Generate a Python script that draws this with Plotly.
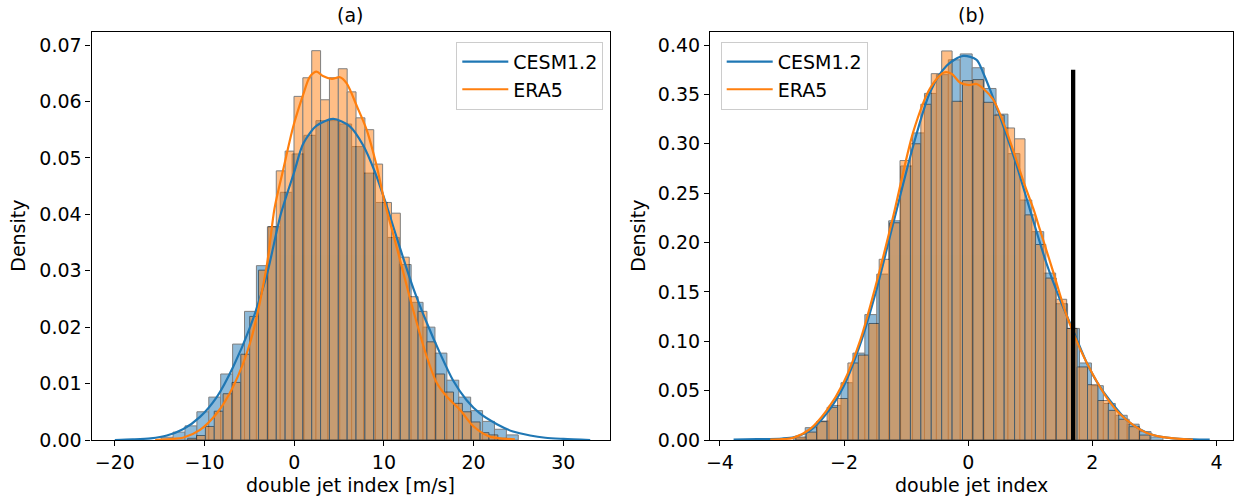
import numpy as np
import plotly.graph_objects as go

# ---------------- Panel (a): double jet index [m/s] ----------------
a_cesm_bin_start = -14.83
a_cesm_bin_width = 1.327
a_cesm_density = [0.0005, 0.0014, 0.0025, 0.0050, 0.0076, 0.0117, 0.0170, 0.0228, 0.0309, 0.0378,
                  0.0439, 0.0507, 0.0540, 0.0566, 0.0566, 0.0560, 0.0520, 0.0473, 0.0421, 0.0359,
                  0.0311, 0.0244, 0.0200, 0.0154, 0.0106, 0.0076, 0.0052, 0.0033, 0.0019, 0.0009]

a_era5_bin_start = -11.88
a_era5_bin_width = 0.988
a_era5_density = [0.0003, 0.0008, 0.0024, 0.0051, 0.0082, 0.0102, 0.0152, 0.0219, 0.0301, 0.0378,
                  0.0477, 0.0512, 0.0609, 0.0642, 0.0690, 0.0603, 0.0642, 0.0658, 0.0617, 0.0571,
                  0.0550, 0.0489, 0.0421, 0.0402, 0.0324, 0.0254, 0.0228, 0.0174, 0.0117, 0.0085,
                  0.0065, 0.0050, 0.0032, 0.0013, 0.0009, 0.0003]

a_cesm_kde_x = [-20, -18, -16, -14.2, -12.4, -10.5, -8.6, -6.8, -4.9, -3.1, -1.5, 0.0, 1.0, 2.5, 4.35,
                6.2, 7.7, 9.0, 10.1, 11.8, 13.3, 14.8, 16.25, 17.7, 19.2, 20.7, 22.6, 24.4, 26.3, 28, 30, 33]
a_cesm_kde_y = [0.0000, 0.0001, 0.0003, 0.0008, 0.0019, 0.0041, 0.0077, 0.0130, 0.0201, 0.0290, 0.0400,
                0.0475, 0.0525, 0.0557, 0.0569, 0.0556, 0.0522, 0.0475, 0.0425, 0.0340, 0.0268, 0.0207,
                0.0154, 0.0106, 0.0071, 0.0047, 0.0028, 0.0015, 0.0008, 0.0004, 0.0002, 0.0000]

a_era5_kde_x = [-15.5, -13.5, -12.4, -10.5, -8.65, -6.8, -4.94, -3.08, -2.2, -1.23, -0.1, 1.0, 1.75, 2.5,
                3.2, 4.2, 5.1, 5.85, 7.0, 8.07, 9.2, 10.1, 11.0, 11.8, 13.27, 14.77, 15.9, 17.0, 18.5,
                20.0, 21.8, 23.0, 24.6]
a_era5_kde_y = [0.0000, 0.0002, 0.0004, 0.0018, 0.0047, 0.0095, 0.0171, 0.0307, 0.0410, 0.0479, 0.0556,
                0.0612, 0.0644, 0.0653, 0.0645, 0.0640, 0.0643, 0.0632, 0.0591, 0.0550, 0.0485, 0.0420,
                0.0367, 0.0319, 0.0230, 0.0148, 0.0101, 0.0077, 0.0053, 0.0024, 0.0006, 0.0003, 0.0001]

# ---------------- Panel (b): double jet index ----------------
b_cesm_bin_start = -2.818
b_cesm_bin_width = 0.1921
b_cesm_density = [0.002, 0.0125, 0.0192, 0.035, 0.058, 0.088, 0.127, 0.168, 0.222, 0.2775,
                  0.311, 0.351, 0.370, 0.385, 0.391, 0.377, 0.356, 0.330, 0.290, 0.243,
                  0.211, 0.169, 0.138, 0.113, 0.078, 0.055, 0.037, 0.025, 0.016, 0.0085, 0.003]

b_era5_bin_start = -2.777
b_era5_bin_width = 0.1678
b_era5_density = [0.003, 0.008, 0.0186, 0.0331, 0.042, 0.078, 0.086, 0.118, 0.183, 0.220,
                  0.283, 0.300, 0.340, 0.371, 0.394, 0.343, 0.364, 0.365, 0.342, 0.329,
                  0.316, 0.305, 0.228, 0.198, 0.164, 0.1425, 0.113, 0.074, 0.056, 0.040,
                  0.030, 0.021, 0.0135, 0.005]

b_cesm_kde_x = [-3.78, -3.4, -3.0, -2.8, -2.55, -2.28, -2.01, -1.74, -1.475, -1.21, -0.886, -0.617,
                -0.348, -0.08, 0.135, 0.24, 0.35, 0.564, 0.78, 1.0, 1.26, 1.48, 1.69, 1.91, 2.12,
                2.34, 2.55, 2.77, 2.98, 3.30, 3.62, 3.89]
b_cesm_kde_y = [0.0003, 0.0008, 0.0015, 0.003, 0.0095, 0.027, 0.054, 0.097, 0.153, 0.219, 0.298, 0.352,
                0.379, 0.389, 0.385, 0.372, 0.355, 0.318, 0.278, 0.232, 0.179, 0.142, 0.111, 0.078,
                0.054, 0.0354, 0.0203, 0.0108, 0.0051, 0.0017, 0.0007, 0.0003]

b_era5_kde_x = [-3.19, -3.0, -2.82, -2.55, -2.28, -2.01, -1.74, -1.475, -1.21, -0.886, -0.617, -0.40,
                -0.27, -0.134, 0.0, 0.135, 0.24, 0.40, 0.564, 0.725, 0.90, 1.05, 1.155, 1.37, 1.585,
                1.80, 2.01, 2.23, 2.44, 2.66, 2.87, 3.09, 3.36, 3.62]
b_era5_kde_y = [0.0003, 0.0008, 0.0022, 0.0110, 0.0300, 0.058, 0.101, 0.160, 0.226, 0.312, 0.356, 0.372,
                0.371, 0.362, 0.3595, 0.3605, 0.356, 0.345, 0.322, 0.293, 0.260, 0.234, 0.213, 0.170,
                0.126, 0.0925, 0.0660, 0.0430, 0.0265, 0.0150, 0.0073, 0.0034, 0.0013, 0.0005]

b_marker_x = 1.69
b_marker_top = 0.375

series_names = ["CESM1.2", "ERA5"]
x_labels = ["double jet index [m/s]", "double jet index"]
panel_titles = ["(a)", "(b)"]

BLUE = "#1f77b4"
ORANGE = "#ff7f0e"
FONT = "DejaVu Sans"
FS = 19


def centers(start, width, vals):
    return start + width * (np.arange(len(vals)) + 0.5)


fig = go.Figure()


def add_hist(start, width, vals, color, xa, ya):
    fig.add_trace(go.Bar(
        x=centers(start, width, vals), y=vals, width=width,
        marker=dict(color=color, line=dict(color="black", width=1)),
        opacity=0.5, showlegend=False, hoverinfo="skip",
        xaxis=xa, yaxis=ya))


def add_kde(xs, ys, color, name, xa, ya, legend):
    fig.add_trace(go.Scatter(
        x=xs, y=ys, mode="lines", name=name,
        line=dict(color=color, width=2.2, shape="spline", smoothing=0.8),
        xaxis=xa, yaxis=ya, legend=legend, legendgroup=name + legend))


# panel a
add_hist(a_cesm_bin_start, a_cesm_bin_width, a_cesm_density, BLUE, "x", "y")
add_hist(a_era5_bin_start, a_era5_bin_width, a_era5_density, ORANGE, "x", "y")
add_kde(a_cesm_kde_x, a_cesm_kde_y, BLUE, series_names[0], "x", "y", "legend")
add_kde(a_era5_kde_x, a_era5_kde_y, ORANGE, series_names[1], "x", "y", "legend")

# panel b
add_hist(b_cesm_bin_start, b_cesm_bin_width, b_cesm_density, BLUE, "x2", "y2")
add_hist(b_era5_bin_start, b_era5_bin_width, b_era5_density, ORANGE, "x2", "y2")
add_kde(b_cesm_kde_x, b_cesm_kde_y, BLUE, series_names[0], "x2", "y2", "legend2")
add_kde(b_era5_kde_x, b_era5_kde_y, ORANGE, series_names[1], "x2", "y2", "legend2")
fig.add_trace(go.Scatter(x=[b_marker_x, b_marker_x], y=[0, b_marker_top], mode="lines",
                         line=dict(color="black", width=4.3), showlegend=False,
                         xaxis="x2", yaxis="y2", hoverinfo="skip"))

W, H = 1238, 498
dom_a = [91.5 / W, 609.5 / W]
dom_b = [710.0 / W, 1233.3 / W]
dom_y = [(H - 440.0) / H, (H - 31.5) / H]

axis_common = dict(showgrid=False, zeroline=False, showline=True, mirror=True,
                   linecolor="black", linewidth=1.1, ticks="outside", ticklen=5,
                   tickwidth=1.1, tickcolor="black", automargin=False,
                   tickfont=dict(family=FONT, size=FS, color="black"))

legend_common = dict(bgcolor="rgba(255,255,255,0.8)", bordercolor="#cccccc", borderwidth=1,
                     font=dict(family=FONT, size=FS, color="black"),
                     tracegroupgap=0, traceorder="grouped", itemwidth=46)

fig.update_layout(
    width=W, height=H,
    margin=dict(l=0, r=0, t=0, b=0),
    paper_bgcolor="white", plot_bgcolor="white",
    barmode="overlay",
    font=dict(family=FONT, size=FS, color="black"),
    xaxis=dict(domain=dom_a, range=[-22.6, 35.15], tickvals=[-20, -10, 0, 10, 20, 30],
               anchor="y", **axis_common),
    yaxis=dict(domain=dom_y, range=[0, 0.0724], tickvals=[0, 0.01, 0.02, 0.03, 0.04, 0.05, 0.06, 0.07],
               tickformat=".2f", anchor="x", **axis_common),
    xaxis2=dict(domain=dom_b, range=[-4.16, 4.27], tickvals=[-4, -2, 0, 2, 4],
                anchor="y2", **axis_common),
    yaxis2=dict(domain=dom_y, range=[0, 0.4137],
                tickvals=[0, 0.05, 0.10, 0.15, 0.20, 0.25, 0.30, 0.35, 0.40],
                tickformat=".2f", anchor="x2", **axis_common),
    legend=dict(x=603.3 / W, xanchor="right", y=(H - 41.7) / H, yanchor="top", **legend_common),
    legend2=dict(x=720.7 / W, xanchor="left", y=(H - 41.7) / H, yanchor="top", **legend_common),
)

annotations = []
for i, (dom, title, xl) in enumerate([(dom_a, panel_titles[0], x_labels[0]),
                                       (dom_b, panel_titles[1], x_labels[1])]):
    cx = (dom[0] + dom[1]) / 2
    annotations.append(dict(text=title, x=cx, y=(H - 15) / H, xref="paper", yref="paper",
                            showarrow=False, xanchor="center", yanchor="middle",
                            font=dict(family=FONT, size=FS, color="black")))
    annotations.append(dict(text=xl, x=cx, y=(H - 485) / H, xref="paper", yref="paper",
                            showarrow=False, xanchor="center", yanchor="middle",
                            font=dict(family=FONT, size=FS, color="black")))
annotations.append(dict(text="Density", x=18 / W, y=(dom_y[0] + dom_y[1]) / 2, xref="paper",
                        yref="paper", showarrow=False, textangle=-90, xanchor="center",
                        yanchor="middle", font=dict(family=FONT, size=FS, color="black")))
annotations.append(dict(text="Density", x=638 / W, y=(dom_y[0] + dom_y[1]) / 2, xref="paper",
                        yref="paper", showarrow=False, textangle=-90, xanchor="center",
                        yanchor="middle", font=dict(family=FONT, size=FS, color="black")))
fig.update_layout(annotations=annotations)

fig.write_html("out.html",
               config={"displayModeBar": False},
               post_script="document.body.style.margin='0';document.body.style.padding='0';"
                           "document.documentElement.style.overflow='hidden';")
